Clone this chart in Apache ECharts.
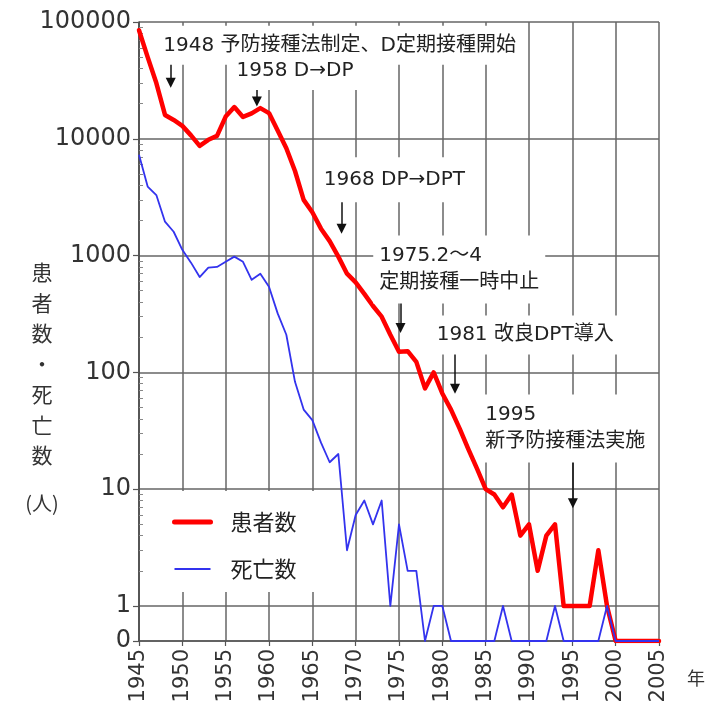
<!DOCTYPE html>
<html><head><meta charset="utf-8">
<script src="https://cdn.jsdelivr.net/npm/echarts@6/dist/echarts.min.js"></script>
<style>html,body{margin:0;padding:0;background:#fff}#c{width:708px;height:716px}</style>
</head><body><div id="c"></div>
<script>
const years = [1945,1946,1947,1948,1949,1950,1951,1952,1953,1954,1955,1956,1957,1958,1959,1960,1961,1962,1963,1964,1965,1966,1967,1968,1969,1970,1971,1972,1973,1974,1975,1976,1977,1978,1979,1980,1981,1982,1983,1984,1985,1986,1987,1988,1989,1990,1991,1992,1993,1994,1995,1996,1997,1998,1999,2000,2001,2002,2003,2004,2005];
const patients = [85000,50000,30000,16000,14500,12900,10700,8700,9800,10600,15500,18700,15400,16500,18300,16600,11800,8300,5300,3000,2350,1700,1330,980,700,590,470,370,300,210,150,152,123,73,100,66,48,33,22,15,10,9,7,9,4,5,2,4,5,1,1,1,1,3,1,0,0,0,0,0,0];
const deaths = [7300,3900,3300,1950,1600,1120,870,655,790,800,885,980,885,620,700,540,320,210,83,48,39,25,17,20,3,6,8,5,8,1,5,2,2,0,1,1,0,0,0,0,0,0,1,0,0,0,0,0,1,0,0,0,0,0,1,0,0,0,0,0,0];
const yTickValues = [0,1,10,100,1000,10000,100000];
const minorMultipliers = [2,3,4,5,6,7,8,9];
const seriesNames = ['患者数','死亡数'];
const notes = [
  {text:'1948 予防接種法制定、D定期接種開始', at:[1947.06,4.80], pad:[4,6,8,6]},
  {text:'1958 D→DP', at:[1955.51,4.58], pad:[1,6,10,6]},
  {text:'1968 DP→DPT', at:[1965.57,3.65], pad:[8,6,10,6]},
  {text:'1975.2〜4\n定期接種一時中止', at:[1971.97,2.88], pad:[6,6,8,6]},
  {text:'1981 改良DPT導入', at:[1978.6,2.32], pad:[4,6,8,6]},
  {text:'1995\n新予防接種法実施', at:[1984.2,1.52], pad:[6,6,8,6]}
];
const arrows = [
  {x:1948.66, from:4.69, to:4.48},
  {x:1958.6, from:4.49, to:4.32},
  {x:1968.37, from:3.50, to:3.23},
  {x:1975.17, from:2.66, to:2.38},
  {x:1981.46, from:2.17, to:1.86},
  {x:1995.06, from:1.25, to:0.88}
];

const ZERO_POS = -0.3;
const toLog = v => v > 0 ? Math.log10(v) : ZERO_POS;
const tickLogs = yTickValues.map(toLog);
const minorLogs = [];
for (let d = 0; d < 5; d++) minorMultipliers.forEach(m => minorLogs.push(Math.log10(m * Math.pow(10, d))));

const latinCJK = '"DejaVu Sans", "Noto Sans CJK JP", sans-serif';
const chart = echarts.init(document.getElementById('c'), null, {renderer:'canvas'});
chart.setOption({
  animation:false,
  backgroundColor:'#fff',
  grid:{left:139, right:44, top:22, bottom:75, containLabel:false},
  legend:{
    data:[{name:seriesNames[0], lineStyle:{width:5}}, {name:seriesNames[1], lineStyle:{width:2}}],
    orient:'vertical', left:150, top:491,
    backgroundColor:'#fff', padding:[20,24,12,22],
    itemWidth:36, itemHeight:22, itemGap:25,
    itemStyle:{opacity:0},
    textStyle:{fontSize:22, fontFamily:'"Noto Sans CJK JP", sans-serif', color:'#222', padding:[0,0,0,15]}
  },
  xAxis:{
    type:'value', min:1945, max:2005, interval:5,
    axisLine:{show:true, onZero:false, lineStyle:{color:'#555', width:1.5}},
    axisTick:{show:true, length:5, lineStyle:{color:'#555', width:1.2}},
    axisLabel:{rotate:90, fontSize:21, fontFamily:'"DejaVu Sans", sans-serif', color:'#333', margin:8, formatter:v=>String(v)},
    splitLine:{show:true, lineStyle:{color:'#666', width:1.5}},
    name:'年', nameLocation:'end', nameGap:28,
    nameTextStyle:{fontSize:18, fontFamily:'"Noto Sans CJK JP", sans-serif', color:'#333', verticalAlign:'top', padding:[28,0,0,0]}
  },
  yAxis:[{
    type:'value', min:ZERO_POS, max:5, position:'left',
    axisLine:{show:true, onZero:false, lineStyle:{color:'#444', width:1.5}},
    axisTick:{show:true, customValues:tickLogs, length:6, lineStyle:{color:'#555', width:1.2}},
    axisLabel:{customValues:tickLogs, fontSize:24, fontFamily:'"DejaVu Sans", sans-serif', color:'#333', margin:8,
      formatter:(val)=>{ const i = tickLogs.findIndex(t=>Math.abs(t-val)<1e-6); return i>=0 ? String(yTickValues[i]) : ''; }},
    splitLine:{show:true, lineStyle:{color:'#666', width:1.5}}
  },{
    type:'value', min:ZERO_POS, max:5, position:'left', offset:0,
    axisLine:{show:false},
    axisTick:{show:true, inside:true, customValues:minorLogs, length:4, lineStyle:{color:'#888', width:1}},
    axisLabel:{show:false},
    splitLine:{show:false}
  }],
  series:[
    {name:seriesNames[0], type:'line', yAxisIndex:0, symbol:'none', z:3,
      data:years.map((y,i)=>[y,toLog(patients[i])]),
      lineStyle:{color:'#ff0000', width:4.5, cap:'round', join:'round'}, itemStyle:{color:'#ff0000'},
      markPoint:{
        silent:true, symbol:'circle', symbolSize:1, itemStyle:{color:'rgba(0,0,0,0)'},
        label:{show:true, position:'right', distance:0, color:'#222', fontSize:20, lineHeight:27,
          fontFamily:latinCJK, backgroundColor:'#fff', align:'left', verticalAlign:'middle'},
        data:notes.map(n=>({coord:n.at, label:{formatter:n.text, padding:n.pad}}))
      },
      markLine:{
        silent:true, symbol:['none','triangle'], symbolSize:10,
        label:{show:false}, emphasis:{disabled:true},
        lineStyle:{color:'#111', width:1.5, type:'solid'},
        itemStyle:{color:'#111'},
        data:arrows.map(a=>[{coord:[a.x,a.from]},{coord:[a.x,a.to]}])
      }
    },
    {name:seriesNames[1], type:'line', yAxisIndex:0, symbol:'none', z:4,
      data:years.map((y,i)=>[y,toLog(deaths[i])]),
      lineStyle:{color:'#3333ee', width:1.8, join:'round'}, itemStyle:{color:'#3333ee'}}
  ],
  graphic:[
    {type:'text', x:42, y:257, style:{text:'患\n者\n数\n・\n死\n亡\n数', align:'center', verticalAlign:'top', lineHeight:30.5,
      font:'21px "Noto Sans CJK JP", sans-serif', fill:'#333'}},
    {type:'text', x:42, y:503, style:{text:'(人)', align:'center', verticalAlign:'middle',
      font:'20px "Noto Sans CJK JP", sans-serif', fill:'#333'}}
  ]
});
</script></body></html>
